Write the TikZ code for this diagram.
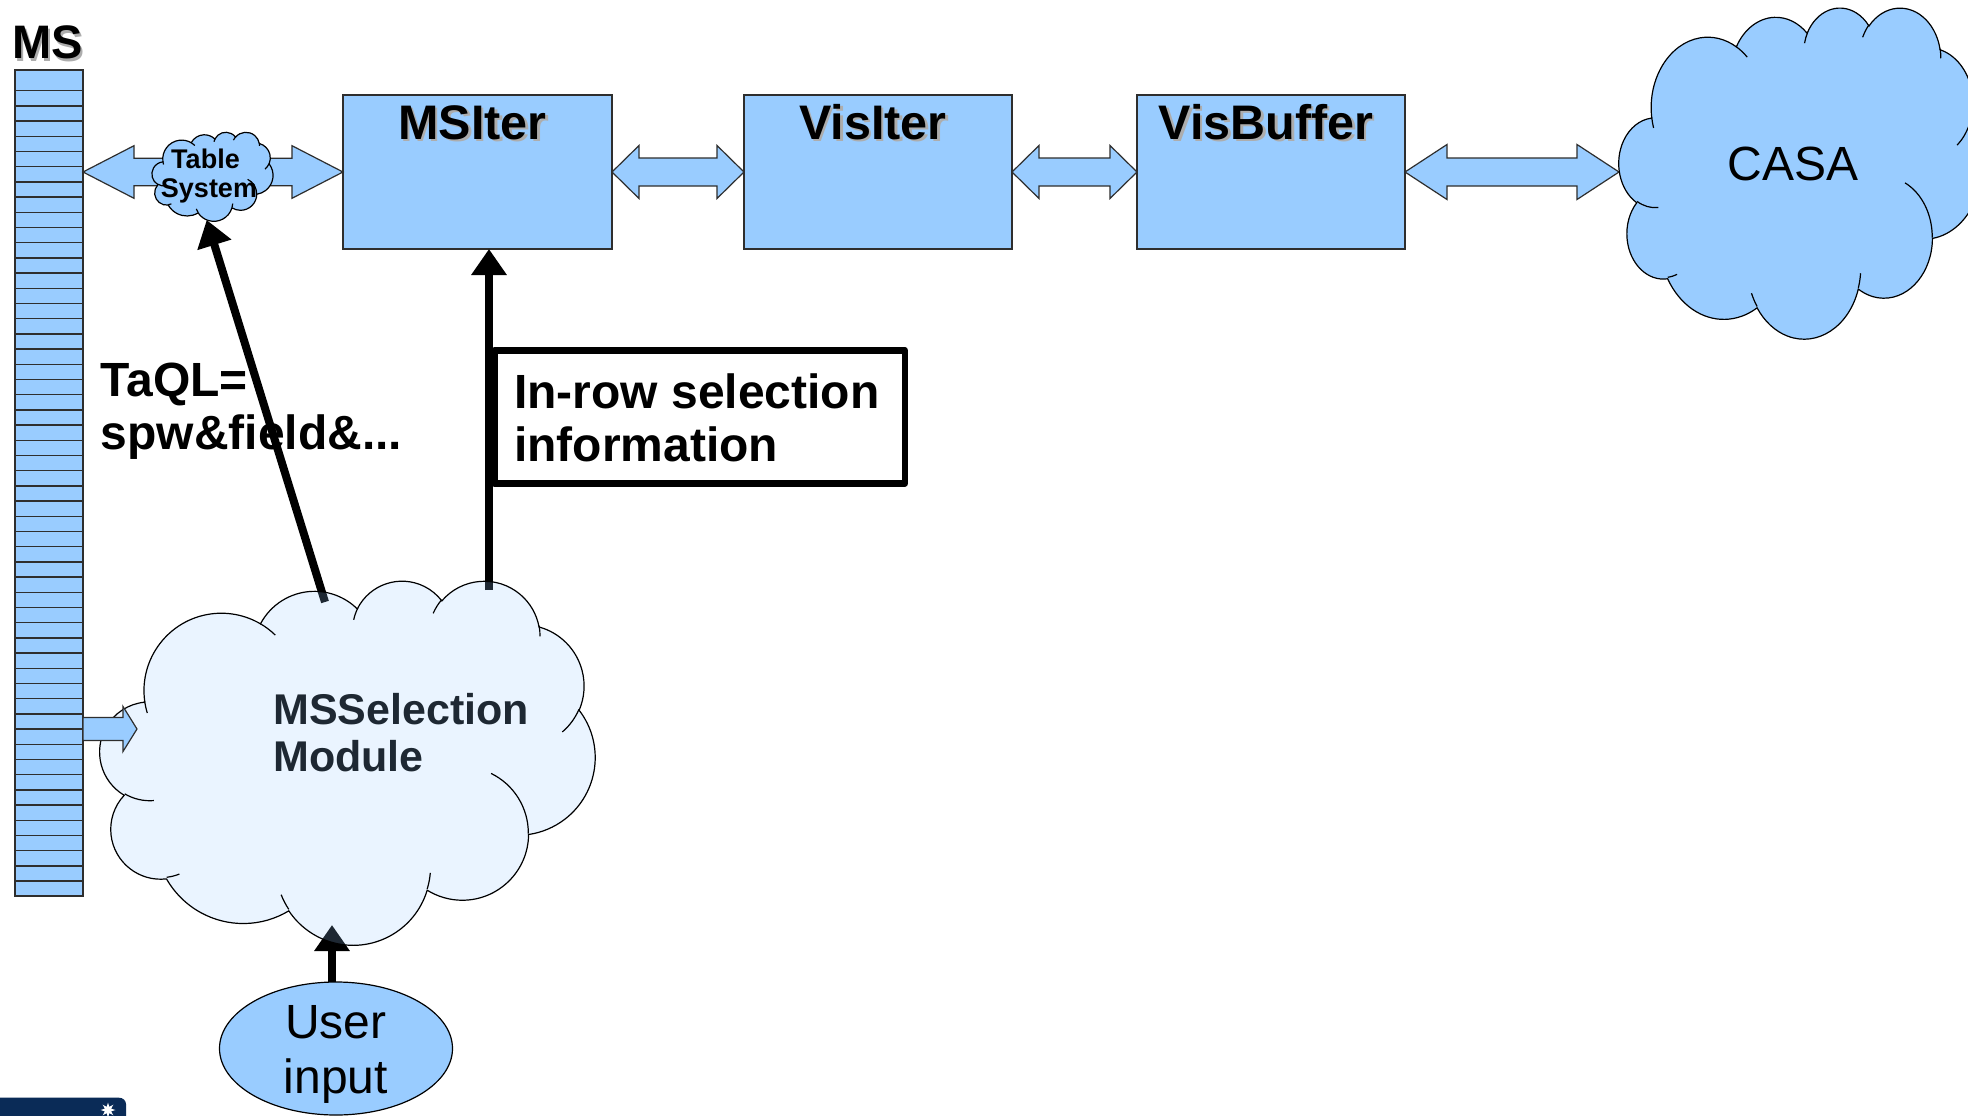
\documentclass[tikz,border=0pt]{standalone}
\usepackage{fontspec}
\setmainfont{Liberation Sans}
\usetikzlibrary{calc,arrows.meta,shapes.geometric}
\definecolor{boxblue}{HTML}{99CCFF}
\definecolor{edgegray}{HTML}{2E2E2E}
\definecolor{shadowgray}{HTML}{ADADAD}
\definecolor{logonavy}{HTML}{0A2B57}

% one arc of the office cloud (visual angles converted to parametric)
\newcommand\ooarc[4]{%
  \pgfextra{%
    \pgfmathparse{atan2((#1)*sin(#3),(#2)*cos(#3))}\xdef\ooA{\pgfmathresult}%
    \pgfmathparse{atan2((#1)*sin((#3)+(#4)),(#2)*cos((#3)+(#4)))}\xdef\ooB{\pgfmathresult}%
    \pgfmathparse{mod((\ooB)-(\ooA)+720,360)}\xdef\ooD{\pgfmathresult}%
  }%
  arc[start angle=\ooA, delta angle=\ooD, x radius=#1, y radius=#2]%
}
\def\oomain{(3.9,14.37)
 \ooarc{6.753}{9.19}{-190.48748}{123.78053}
 \ooarc{5.333}{7.267}{-144.10238}{89.94523}
 \ooarc{4.365}{5.945}{-145.80792}{99.72302}
 \ooarc{4.857}{6.595}{-130.98607}{117.24173}
 \ooarc{5.333}{7.273}{-78.70888}{109.02692}
 \ooarc{6.775}{9.22}{-46.26725}{130.269}
 \ooarc{5.785}{7.867}{0.62502}{114.03333}
 \ooarc{6.752}{9.215}{22.4516}{115.17255}
 \ooarc{7.72}{10.543}{66.24263}{75.71102}
 \ooarc{4.36}{5.918}{-274.94208}{146.73557}
 \ooarc{4.345}{5.945}{-246.8285}{152.51885}
 -- cycle}
\def\oohooks{(4.693,26.177) \ooarc{4.345}{5.945}{86.742}{26.4295}
 (6.928,34.899) \ooarc{4.36}{5.918}{73.61047}{11.44747}
 (16.478,39.09) \ooarc{6.752}{9.215}{137.62415}{14.0811}
 (28.827,34.751) \ooarc{6.752}{9.215}{6.45327}{15.99835}
 (34.129,22.954) \ooarc{5.785}{7.867}{-70.29235}{70.91737}
 (41.798,15.354) \ooarc{5.333}{7.273}{30.31803}{27.7515}
 (38.324,5.426) \ooarc{4.857}{6.595}{-13.74433}{14.8589}
 (29.078,3.952) \ooarc{4.857}{6.595}{-149.18145}{18.19537}
 (22.141,4.72) \ooarc{4.365}{5.945}{-163.49427}{17.68635}
 (14,5.192) \ooarc{6.753}{9.19}{-66.70695}{12.31935}
 (4.127,15.789) \ooarc{6.753}{9.19}{157.65435}{11.85817}}
% #1 style, #2 #3 top-left, #4 width, #5 height
\newcommand\oocloud[5]{%
  \begin{scope}[shift={(#2,#3)},xscale=#4/43.2,yscale=#5/43.2]
    \path[#1] \oomain;
    \draw[#1,fill=none] \oohooks;
  \end{scope}}
% double block arrow between two tips at the same height
\newcommand\dblarrow[5]{%
  \draw[blockarrow] (#1) -- ($(#1)+(#3,-#4)$) -- ($(#1)+(#3,-#5)$) -- ($(#2)+(-#3,-#5)$)
    -- ($(#2)+(-#3,-#4)$) -- (#2) -- ($(#2)+(-#3,#4)$) -- ($(#2)+(-#3,#5)$)
    -- ($(#1)+(#3,#5)$) -- ($(#1)+(#3,#4)$) -- cycle;}

\begin{document}
\begin{tikzpicture}[x=1pt,y=-1pt,
  bluebox/.style={draw=edgegray,fill=boxblue,line width=1.3pt,inner sep=0pt,outer sep=0pt,anchor=north west},
  blockarrow/.style={draw=edgegray,fill=boxblue,line width=1.2pt,line join=miter},
  stripe/.style={draw=edgegray,line width=1.3pt},
  txt/.style={inner sep=0pt,font=\fontsize{#1}{#1}\selectfont},
  btxt/.style={inner sep=0pt,font=\fontsize{#1}{#1}\selectfont\bfseries},
  bigarrow/.style={draw=black,line width=8pt,-{Triangle[length=26pt,width=34pt]}},
  cloudline/.style={draw=black,line width=1.2pt},
  bbox/.style={inner sep=0pt,outer sep=0pt,anchor=north west}]
\fill[white] (0,0) rectangle (1968,1116);
\useasboundingbox (0,0) rectangle (1968,1116);

% MS stack
\node[bluebox,minimum width=68pt,minimum height=826pt] (ms) at (15,70) {};
\foreach \k in {0,...,52}{\pgfmathsetmacro\yy{90.7+15.2*\k}\draw[stripe] (15,\yy) -- (83,\yy);}
\node[btxt=47,text=shadowgray,anchor=base west] at (14.5,61.5) {MS};
\node[btxt=47,anchor=base west] (mslabel) at (12,59) {MS};

% boxes
\node[bluebox,minimum width=269pt,minimum height=154pt] (msiter) at (343,95) {};
\node[bluebox,minimum width=268pt,minimum height=154pt] (visiter) at (744,95) {};
\node[bluebox,minimum width=268pt,minimum height=154pt] (visbuf) at (1137,95) {};
\foreach \n/\t in {msiter/MSIter,visiter/VisIter,visbuf/VisBuffer}{
  \node[btxt=48.5,text=shadowgray,anchor=base] at ($(\n.north)+(-2.5,46.5)$) {\t};
  \node[btxt=48.5,anchor=base] (\n-title) at ($(\n.north)+(-5,44)$) {\t};}

% cloud bounding nodes
\node[bbox,minimum width=121pt,minimum height=89pt] (tabsys) at (152,132) {};
\node[bbox,minimum width=362pt,minimum height=331pt] (casa) at (1619,7) {};
\node[bbox,minimum width=495pt,minimum height=364pt] (mssel) at (100,580) {};

% block arrows
\coordinate (msedge) at (ms.east |- msiter.west);
\coordinate (casaedge) at (casa.west |- visbuf.east);
\dblarrow{msedge}{msiter.west}{51}{26.3}{13.7}
\dblarrow{msiter.east}{visiter.west}{27}{26.5}{14}
\dblarrow{visiter.east}{visbuf.west}{27}{26.5}{14}
\dblarrow{visbuf.east}{casaedge}{42}{27.5}{14}

% Table System cloud
\oocloud{fill=boxblue,cloudline}{152}{132}{121}{89}
\node[btxt=27,anchor=base] (tabsys-t1) at (205.5,168) {Table};
\node[btxt=27,anchor=base] (tabsys-t2) at (209,197) {System};

% CASA cloud
\oocloud{fill=boxblue,cloudline}{1619}{7}{362}{331}
\node[txt=48,anchor=base] (casa-t) at (1793,180) {CASA};

% In-row selection box
\node[draw=black,line width=6.5pt,line join=round,minimum width=410.5pt,minimum height=133pt,bbox] (inrow) at (494.5,350.5) {};
\node[btxt=48,anchor=base west] (inrow-t1) at (514,408.3) {In-row selection};
\node[btxt=48,anchor=base west] (inrow-t2) at (514,461) {information};

% TaQL label
\node[btxt=48,anchor=base west] (taql1) at (100.5,396.7) {TaQL=};
\node[btxt=48,anchor=base west] (taql2) at (100.5,449) {spw\&field\&...};

% user input
\node[ellipse,draw=black,fill=boxblue,line width=1.2pt,minimum width=233pt,minimum height=133pt,inner sep=0pt,outer sep=0pt] (user) at (336,1048.5) {};
\node[txt=48,anchor=base] (user-t1) at (336,1038) {User};
\node[txt=48,anchor=base] (user-t2) at (336,1093) {input};

% arrows (under the selection cloud)
\coordinate (taqlstart) at (325,602);
\coordinate (tabtip) at (206.7,220);
\coordinate (vstart) at (489,590);
\coordinate (usertip) at (332,925);
\draw[bigarrow] (taqlstart) -- (tabtip);
\draw[bigarrow] (vstart) -- (vstart |- msiter.south);
\draw[bigarrow] (user.north -| usertip) -- (usertip);

% MSSelection cloud (translucent, over its text)
\node[btxt=43,anchor=base west] (mssel-t1) at (273,724) {MSSelection};
\node[btxt=43,anchor=base west] (mssel-t2) at (273,771) {Module};
\oocloud{fill=boxblue,fill opacity=0.2,cloudline}{100}{580}{495}{364}

% small arrow MS -> MSSelection
\coordinate (smtail) at (ms.east |- 0,729);
\coordinate (smtip) at (137,729);
\draw[blockarrow] ($(smtail)+(0,-11.5)$) -- ($(smtip)+(-14,-11.5)$) -- ($(smtip)+(-14,-22.5)$) -- (smtip)
  -- ($(smtip)+(-14,22.5)$) -- ($(smtip)+(-14,11.5)$) -- ($(smtail)+(0,11.5)$) -- cycle;

% logo strip
\fill[logonavy] (0,1097.7) -- (119,1097.7) to[out=0,in=90] (126,1104) -- (126,1116) -- (0,1116) -- cycle;
\node[star,star points=8,star point ratio=2.2,fill=white,minimum size=15pt,inner sep=0pt] (logostar) at (108,1110) {};
\end{tikzpicture}
\end{document}
